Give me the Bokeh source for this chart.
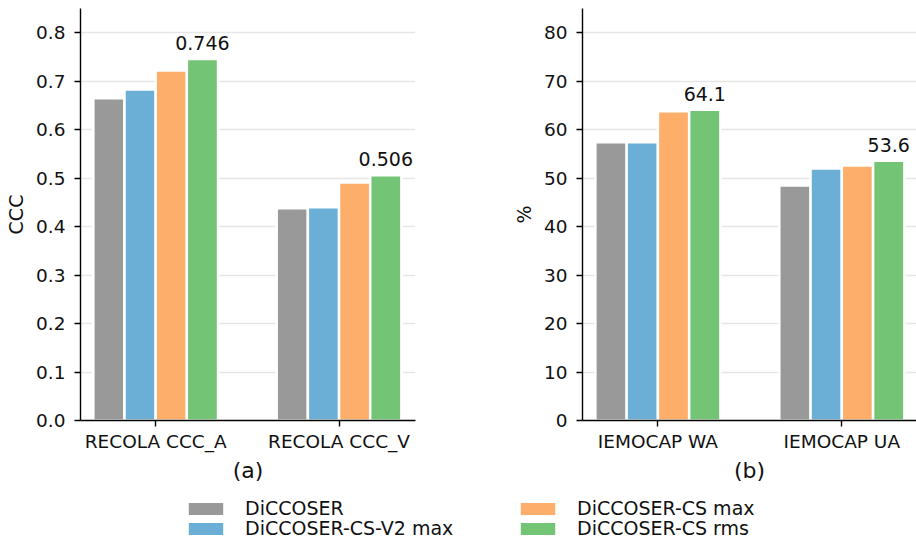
import numpy as np
from bokeh.plotting import figure
from bokeh.models import FixedTicker, Legend, LegendItem, Range1d
from bokeh.layouts import column, row
from bokeh.embed import file_html
from bokeh.resources import INLINE
from bokeh.core.properties import value

# ---- data ----
series_names = ["DiCCOSER", "DiCCOSER-CS-V2 max", "DiCCOSER-CS max", "DiCCOSER-CS rms"]
series_colors = ["#999999", "#6baed6", "#fdae6b", "#74c476"]

cats_a = ["RECOLA CCC_A", "RECOLA CCC_V"]
a_diccoser = [0.665, 0.438]
a_v2_max = [0.683, 0.440]
a_cs_max = [0.722, 0.491]
a_cs_rms = [0.746, 0.506]
ticks_a = [0.0, 0.1, 0.2, 0.3, 0.4, 0.5, 0.6, 0.7, 0.8]
tick_labels_a = ["0.0", "0.1", "0.2", "0.3", "0.4", "0.5", "0.6", "0.7", "0.8"]

cats_b = ["IEMOCAP WA", "IEMOCAP UA"]
b_diccoser = [57.4, 48.5]
b_v2_max = [57.4, 52.0]
b_cs_max = [63.8, 52.6]
b_cs_rms = [64.1, 53.6]
ticks_b = [0, 10, 20, 30, 40, 50, 60, 70, 80]
tick_labels_b = ["0", "10", "20", "30", "40", "50", "60", "70", "80"]

FONT = "DejaVu Sans"
TXT = "#111111"
PITCH = 0.17


def make_panel(cats, series_vals, ticks, tick_labels, ymax, ylabel, xlabel, fmt,
               frame_w, x_end, border_left, border_right):
    p = figure(frame_width=frame_w, frame_height=412,
               x_range=Range1d(-0.41, x_end), y_range=Range1d(0, ymax),
               output_backend="svg", toolbar_location=None,
               min_border_left=border_left, min_border_right=border_right,
               min_border_top=8, min_border_bottom=68)
    p.outline_line_color = None
    p.background_fill_color = "white"
    p.border_fill_color = "white"
    base = np.arange(len(cats))
    for i, (vals, col) in enumerate(zip(series_vals, series_colors)):
        xs = base + (i - 1.5) * PITCH
        p.vbar(x=xs, top=vals, bottom=0, width=PITCH, fill_color=col,
               line_color="white", line_width=2.5)
    # value labels on the last (best) series
    xs_last = base + 1.5 * PITCH
    last = series_vals[-1]
    p.text(x=xs_last, y=last, text=[fmt % v for v in last],
           text_align="center", text_baseline="alphabetic", y_offset=-16,
           text_font=value(FONT), text_font_size="19px", text_color=TXT)

    p.xgrid.visible = False
    p.ygrid.grid_line_color = "#e6e6e6"
    p.ygrid.grid_line_width = 1.5

    p.xaxis.ticker = FixedTicker(ticks=list(base))
    p.xaxis.major_label_overrides = {int(k): c for k, c in zip(base, cats)}
    p.yaxis.ticker = FixedTicker(ticks=ticks)
    p.yaxis.major_label_overrides = {t: l for t, l in zip(ticks, tick_labels)}

    for ax in (p.xaxis[0], p.yaxis[0]):
        ax.axis_line_color = "black"
        ax.axis_line_width = 1.4
        ax.major_tick_line_color = "black"
        ax.major_tick_line_width = 1.4
        ax.major_tick_out = 6
        ax.major_tick_in = 0
        ax.minor_tick_line_color = None
        ax.major_label_text_font = FONT
        ax.major_label_text_font_size = "18.5px"
        ax.major_label_text_color = TXT
        ax.axis_label_text_font = FONT
        ax.axis_label_text_font_style = "normal"
        ax.axis_label_text_color = TXT
    p.yaxis.major_label_standoff = 9
    p.xaxis.major_label_standoff = 4
    p.yaxis.axis_label = ylabel
    p.yaxis.axis_label_text_font_size = "19px"
    p.yaxis.axis_label_standoff = 6
    p.xaxis.axis_label = xlabel
    p.xaxis.axis_label_text_font_size = "22px"
    p.xaxis.axis_label_standoff = 3
    return p


p1 = make_panel(cats_a, [a_diccoser, a_v2_max, a_cs_max, a_cs_rms], ticks_a, tick_labels_a,
                0.85, "CCC", "(a)", "%.3f", 335, 1.417, 80, 80)
p2 = make_panel(cats_b, [b_diccoser, b_v2_max, b_cs_max, b_cs_rms], ticks_b, tick_labels_b,
                85, "%", "(b)", "%.1f", 334, 1.406, 87, 0)

# ---- legend strip ----
p3 = figure(width=916, height=53, x_range=Range1d(0, 1), y_range=Range1d(0, 1),
            output_backend="svg", toolbar_location=None,
            min_border_left=0, min_border_right=0, min_border_top=0, min_border_bottom=0)
p3.axis.visible = False
p3.grid.visible = False
p3.outline_line_color = None
renderers = []
for name, col, vals in zip(series_names, series_colors,
                           [a_diccoser, a_v2_max, a_cs_max, a_cs_rms]):
    r = p3.vbar(x=np.arange(len(vals)), top=vals, width=PITCH, fill_color=col,
                line_color=None, visible=False)
    renderers.append(r)

# matplotlib-style 2-column legend: (col, row) placement per item
legend_pos = [(184, 22), (184, 2), (516, 22), (516, 2)]
for name, r, loc in zip(series_names, renderers, legend_pos):
    lg = Legend(items=[LegendItem(label=name, renderers=[r])], location=loc,
                glyph_width=43, glyph_height=15, label_standoff=18,
                label_text_font=FONT, label_text_font_size="19px",
                label_text_color=TXT, label_height=20, spacing=0,
                padding=0, margin=0, border_line_color=None,
                background_fill_alpha=0)
    p3.add_layout(lg, "center")

layout = column(row(p1, p2, spacing=0), p3, spacing=0)
open("out.html", "w").write(file_html(layout, INLINE))
